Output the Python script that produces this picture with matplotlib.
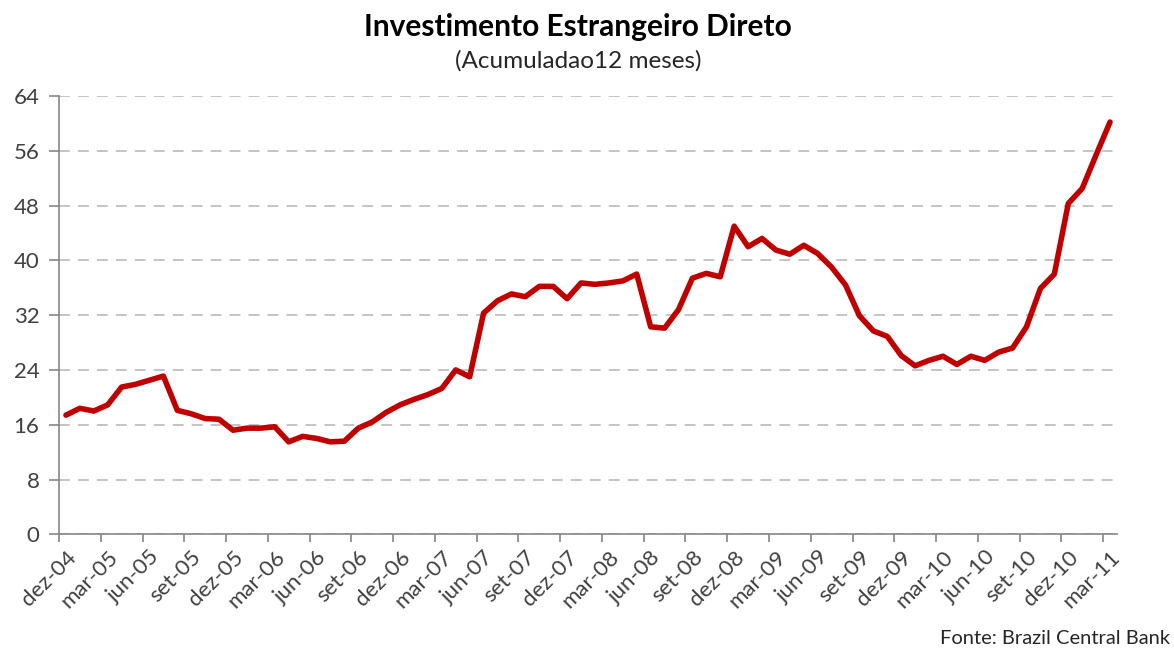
import matplotlib
matplotlib.use("Agg")
import matplotlib.pyplot as plt
import numpy as np

plt.rcParams['font.family'] = ['Lato', 'DejaVu Sans']

month_abbr = ['jan', 'fev', 'mar', 'abr', 'mai', 'jun', 'jul', 'ago', 'set', 'out', 'nov', 'dez']
# months from dez-04 to mar-11
months = []
m, y = 11, 4
for _ in range(76):
    months.append(f"{month_abbr[m]}-{y:02d}")
    m += 1
    if m == 12:
        m, y = 0, y + 1

values = [17.4, 18.4, 18.0, 18.9, 21.5, 21.9, 22.5, 23.1, 18.1, 17.6,
          16.9, 16.8, 15.2, 15.5, 15.5, 15.7, 13.5, 14.3, 14.0, 13.5,
          13.6, 15.5, 16.4, 17.8, 18.9, 19.7, 20.4, 21.3, 24.0, 23.0,
          32.3, 34.1, 35.1, 34.7, 36.2, 36.2, 34.4, 36.7, 36.5, 36.7,
          37.0, 38.0, 30.3, 30.1, 32.8, 37.4, 38.1, 37.6, 45.0, 42.0,
          43.2, 41.5, 40.9, 42.2, 41.0, 39.0, 36.4, 31.9, 29.7, 28.9,
          26.1, 24.6, 25.4, 26.0, 24.8, 26.0, 25.4, 26.6, 27.2, 30.3,
          35.9, 38.0, 48.3, 50.5, 55.4, 60.2]

y_ticks = [0, 8, 16, 24, 32, 40, 48, 56, 64]

fig = plt.figure(figsize=(11.74, 6.53), dpi=100)
ax = fig.add_axes([59/1174, 1 - 534.3/653, (1117 - 59)/1174, (534.3 - 96)/653])

n = len(values)
x = np.arange(n) + 0.5
ax.plot(x, values, color='#C00000', lw=4.0, solid_joinstyle='round',
        solid_capstyle='round', zorder=3)

ax.set_xlim(0, n)
ax.set_ylim(0, 64)
ax.set_yticks(y_ticks)
ax.set_yticklabels([str(v) for v in y_ticks])
ax.yaxis.grid(True, color='#BFBFBF', lw=1.3, linestyle=(0, (6, 4.5)))
ax.set_axisbelow(True)

# tick marks at category boundaries, labels at category centres
ax.set_xticks(np.arange(0, n, 3))
ax.set_xticklabels([])
ax.set_xticks(np.arange(0, n, 3) + 0.5, minor=True)
ax.set_xticklabels(months[::3], minor=True, rotation=45, ha='right',
                   va='top', rotation_mode='anchor', fontsize=16,
                   color='#404040')
ax.tick_params(axis='x', which='minor', length=0, pad=9)
ax.tick_params(axis='x', which='major', length=6, width=1.2, color='#868686')
ax.tick_params(axis='y', length=7, width=1.2, color='#868686',
               labelsize=16, labelcolor='#404040', pad=7)

for s in ['top', 'right']:
    ax.spines[s].set_visible(False)
for s in ['left', 'bottom']:
    ax.spines[s].set_color('#868686')
    ax.spines[s].set_linewidth(1.2)

fig.text(578/1174, 1 - 27/653, 'Investimento Estrangeiro Direto',
         ha='center', va='center', fontsize=21.5, fontweight='bold', color='black')
fig.text(578/1174, 1 - 61/653, '(Acumuladao12 meses)',
         ha='center', va='center', fontsize=17.5, color='#262626')
fig.text(1170/1174, 1 - 638/653, 'Fonte: Brazil Central Bank',
         ha='right', va='center', fontsize=14.5, color='#262626')

fig.savefig('out.png', dpi=100)
